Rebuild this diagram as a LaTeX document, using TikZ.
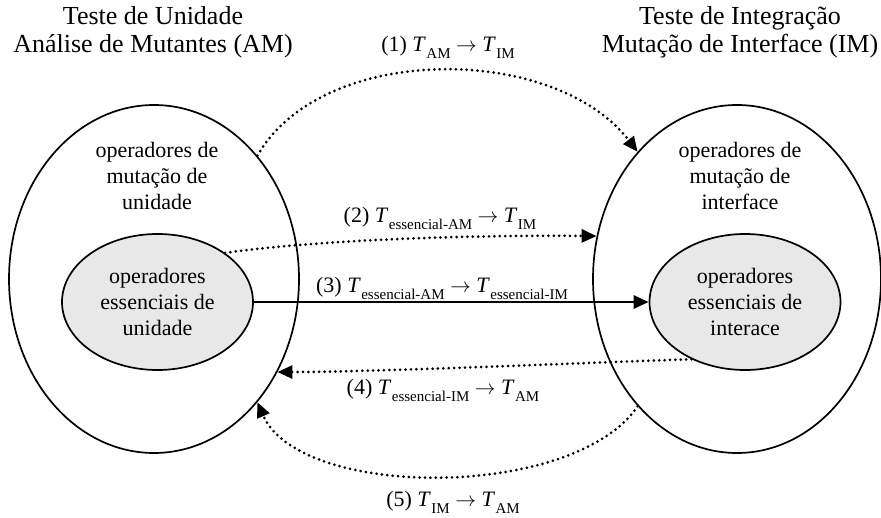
\documentclass[tikz,border=0pt]{standalone}
\usepackage{fontspec}
\setmainfont{Liberation Serif}
\usetikzlibrary{arrows.meta,shapes.geometric}
\newcommand{\Tsb}[1]{\textit{T}\kern0.5pt\raisebox{-0.32em}{\fontsize{15}{15}\selectfont #1}}
\newcommand{\rarr}{\ $\rightarrow$\ }
\tikzset{
  outer/.style={ellipse, draw, line width=1.7pt, inner sep=0pt},
  inner/.style={ellipse, draw, line width=1.7pt, inner sep=0pt, fill=black!9, minimum width=191pt, minimum height=136pt},
  body/.style={align=center, font=\fontsize{22}{26}\selectfont, inner sep=0pt},
  head/.style={align=center, font=\fontsize{26}{28}\selectfont, inner sep=0pt},
  lbl/.style={font=\fontsize{22}{26}\selectfont, inner sep=0pt},
  dotarrow/.style={line width=3pt, line cap=round, dash pattern=on 0pt off 5.4pt, -{Triangle[length=15pt,width=13pt]}},
  solidarrow/.style={line width=2.8pt, -{Triangle[length=15pt,width=13pt]}},
}
\begin{document}
\begin{tikzpicture}[x=1pt,y=-1pt]
\useasboundingbox (0,0) rectangle (881,518);
% headings
\node[head] (h1) at (153,32) {Teste de Unidade\\Análise de Mutantes (AM)};
\node[head] (h2) at (740,32) {Teste de Integração\\Mutação de Interface (IM)};
% ellipses
\node[outer, minimum width=290pt, minimum height=348pt] (L) at (154,279) {};
\node[outer, minimum width=288pt, minimum height=348pt] (R) at (737,279) {};
\node[inner] (Li) at (157.5,302) {};
\node[inner] (Ri) at (745,302) {};
% texts
\node[body] (tL) at (157,176) {operadores de\\mutação de\\unidade};
\node[body] (tR) at (740,176) {operadores de\\mutação de\\interface};
\node[body] (tLi) at (157.5,302) {operadores\\essenciais de\\unidade};
\node[body] (tRi) at (745,302) {operadores\\essenciais de\\interace};
% labels
\node[lbl] (l1) at (448,47) {(1) \Tsb{AM}\rarr\Tsb{IM}};
\node[lbl] (l2) at (440,218) {(2) \Tsb{essencial-AM}\rarr\Tsb{IM}};
\node[lbl] (l3) at (442,288) {(3) \Tsb{essencial-AM}\rarr\Tsb{essencial-IM}};
\node[lbl] (l4) at (443,390) {(4) \Tsb{essencial-IM}\rarr\Tsb{AM}};
\node[lbl] (l5) at (453,502) {(5) \Tsb{IM}\rarr\Tsb{AM}};
% connectors
\draw[dotarrow] (L.50) .. controls (321,43) and (554,43) .. (R.128);
\draw[dotarrow] (Li.36) .. controls (330,238) and (500,235) .. (R.163);
\draw[solidarrow] (Li.east) -- (Ri.west);
\draw[dotarrow] (Ri.-133) .. controls (600,362) and (380,372) .. (L.-37);
\draw[dotarrow] (R.-128) .. controls (575,500) and (300,500) .. (L.-50);
\end{tikzpicture}
\end{document}
